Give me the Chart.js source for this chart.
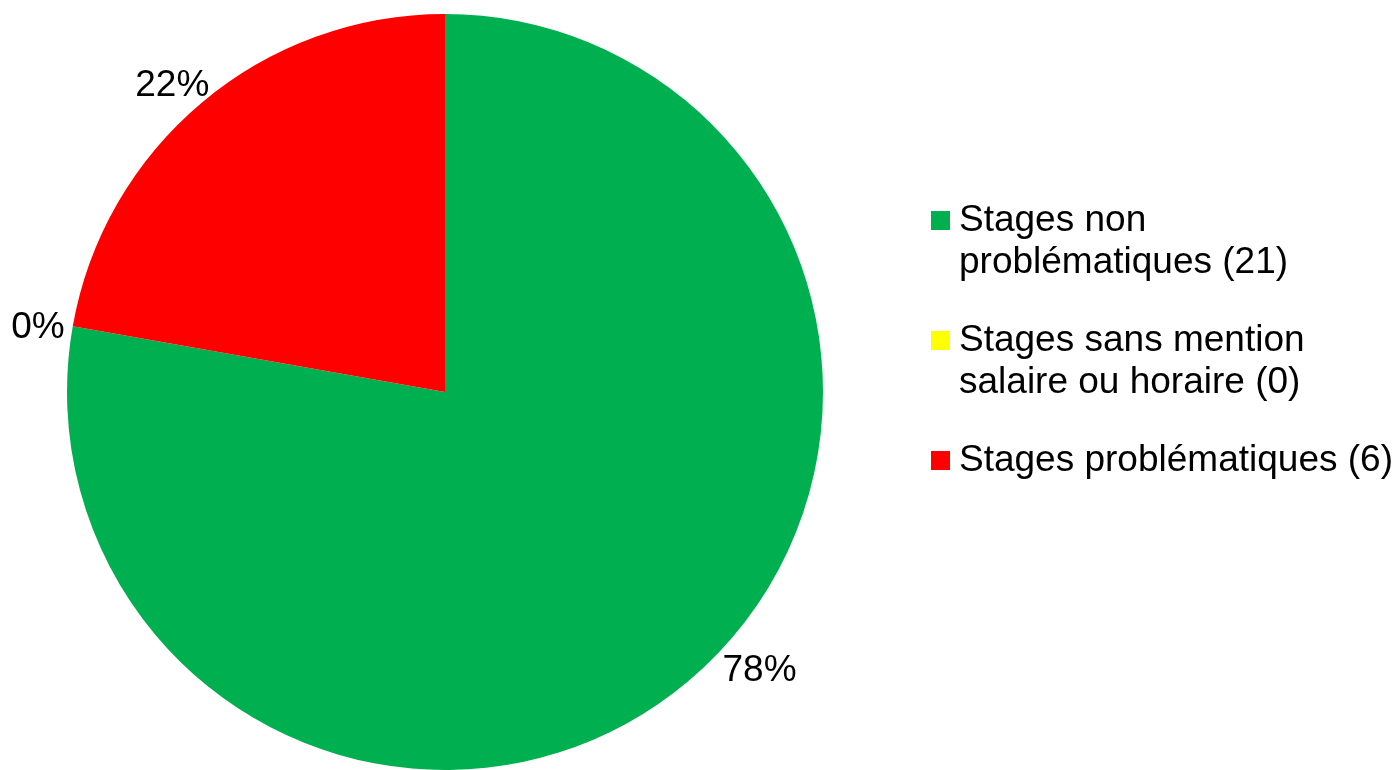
<!DOCTYPE html>
<html>
<head>
<meta charset="utf-8">
<script src="https://cdn.jsdelivr.net/npm/chart.js@4.4.1/dist/chart.umd.min.js"></script>
<style>
  html, body { margin: 0; padding: 0; background: #fff; }
  #wrap { position: relative; width: 1400px; height: 770px; }
  #legend {
    position: absolute; left: 931px; top: 198px;
    font-family: "Liberation Sans", Arial, sans-serif; font-size: 37px; line-height: 41.5px; color: #000;
  }
  .item { position: relative; padding-left: 28px; width: 440px; margin-bottom: 37px; }
  .box { position: absolute; left: 0; top: 13px; width: 19px; height: 19px; }
</style>
</head>
<body>
<div id="wrap">
  <canvas id="myChart" width="1400" height="770"></canvas>
  <div id="legend"></div>
</div>
<script>
// données du graphique
const labels = ["Stages non problématiques (21)", "Stages sans mention salaire ou horaire (0)", "Stages problématiques (6)"];
const counts = [21, 0, 6];
const colors = ["#00B050", "#FFFF00", "#FF0000"];

// Légende HTML
const legend = document.getElementById("legend");
labels.forEach((l, i) => {
    const item = document.createElement("div");
    item.className = "item";
    item.innerHTML = `<span class="box" style="background:${colors[i]}"></span>${l}`;
    legend.appendChild(item);
});

// Étiquettes de pourcentage à l'extérieur du camembert
const pctLabels = {
    id: "pctLabels",
    afterDatasetsDraw(chart, args, opts) {
        const ctx = chart.ctx;
        const meta = chart.getDatasetMeta(0);
        const data = chart.data.datasets[0].data;
        const total = data.reduce((a, b) => a + b, 0);
        ctx.save();
        ctx.font = "37px 'Liberation Sans', Arial, sans-serif";
        ctx.fillStyle = "#000";
        ctx.textAlign = "center";
        ctx.textBaseline = "middle";
        meta.data.forEach((arc, i) => {
            const p = arc.getProps(["x", "y", "startAngle", "endAngle", "outerRadius"]);
            const mid = (p.startAngle + p.endAngle) / 2 + (opts.shift[i] || 0) * Math.PI / 180;
            const r = p.outerRadius + opts.offset[i];
            const x = p.x + Math.cos(mid) * r;
            const y = p.y + Math.sin(mid) * r;
            const pct = Math.round(data[i] / total * 100) + "%";
            ctx.fillText(pct, x, y);
        });
        ctx.restore();
    }
};

const config = {
    type: 'pie',
    data: {
        labels: labels,
        datasets: [{
            data: counts,
            backgroundColor: colors,
            borderWidth: 0,
            hoverOffset: 0
        }]
    },
    options: {
        responsive: false,
        animation: false,
        layout: { padding: { left: 67, right: 577, top: 14, bottom: 0 } },
        plugins: {
            legend: { display: false },
            tooltip: { enabled: false },
            pctLabels: { offset: [42, 34, 32], shift: [-8.5, -1.1, -1.7] }
        }
    },
    plugins: [pctLabels]
};

const myChart = new Chart(document.getElementById('myChart'), config);
</script>
</body>
</html>
